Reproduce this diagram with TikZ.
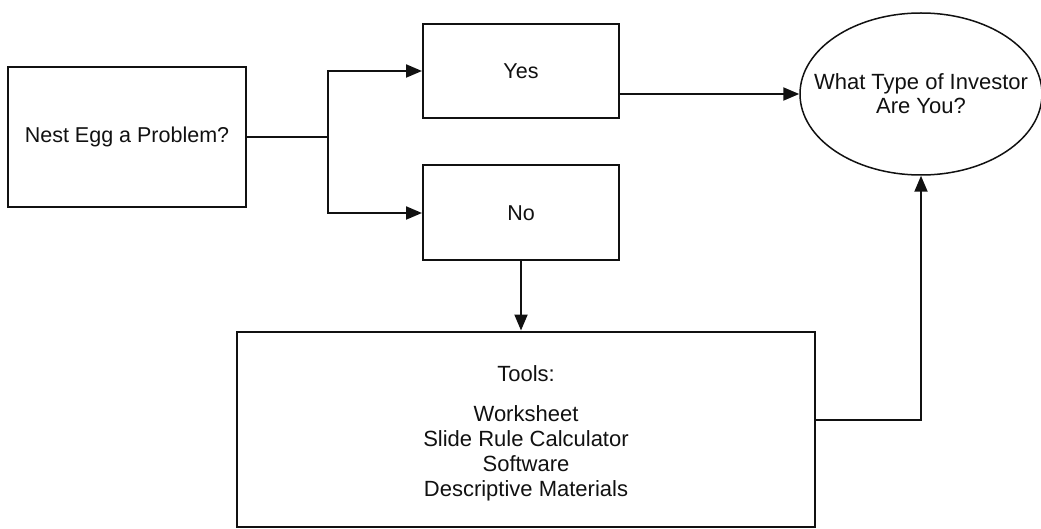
\documentclass[tikz,border=0pt]{standalone}
\usepackage{fontspec}
\setmainfont{Liberation Sans}
\usetikzlibrary{arrows.meta,shapes.geometric}
\definecolor{flowink}{HTML}{111111}

\begin{document}
\begin{tikzpicture}[x=1pt,y=-1pt,-,
  point/.style={coordinate},
  box/.style={draw=flowink, line width=2pt, rectangle, align=center, text=flowink, font=\fontsize{21.5}{25}\selectfont},
  oval/.style={draw=flowink, line width=1.5pt, ellipse, inner xsep=-25pt, inner ysep=0pt, align=center, text=flowink, font=\fontsize{22}{24}\selectfont},
  flow/.style={-{Triangle[length=16pt,width=13pt]}},
  every path/.style={draw=flowink, line width=2pt}]
\path[use as bounding box, draw=none] (0,0) rectangle (1041,529);
\node[box, minimum width=238pt, minimum height=140pt] (nest) at (127,137) {Nest Egg a Problem?};
\node[box, minimum width=196pt, minimum height=94pt] (yes) at (521,71) {Yes};
\node[box, minimum width=196pt, minimum height=95pt] (no) at (521,213) {No};
\node[oval, minimum width=242pt, minimum height=162pt] (type) at (921,94) {What Type of Investor\\Are You?};
\node[box, minimum width=578pt, minimum height=195pt, font=\fontsize{22}{25}\selectfont] (tools) at (526,429)
  {\rule{0pt}{25pt}Tools:\\[15pt]Worksheet\\Slide Rule Calculator\\Software\\Descriptive Materials};
\node[point] (fork) at (328,137) {};
\draw (nest) -- (fork);
\draw[flow] (fork) |- (yes);
\draw[flow] (fork) |- (no);
\draw[flow] (yes.east |- type) -- (type);
\draw[flow] (no.south) -- (no.south |- tools.north);
\draw[flow] ([yshift=9pt]tools.east) -| (type.south);
\end{tikzpicture}
\end{document}
